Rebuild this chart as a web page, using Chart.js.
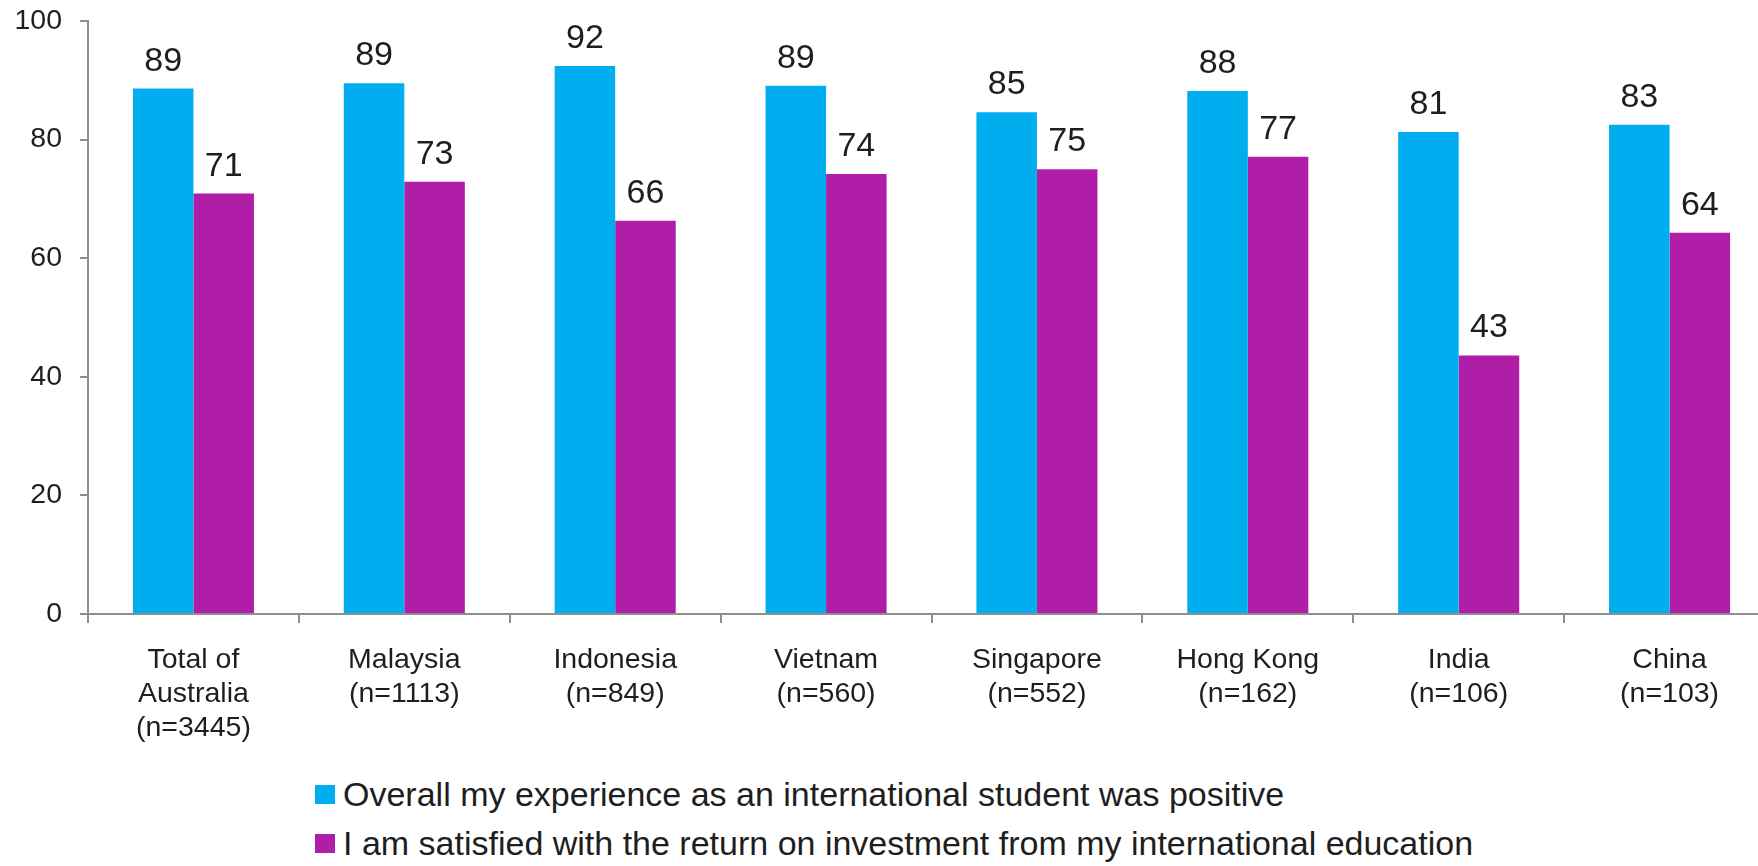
<!DOCTYPE html>
<html>
<head>
<meta charset="utf-8">
<script src="https://cdn.jsdelivr.net/npm/chart.js@4/dist/chart.umd.min.js"></script>
<style>
  html, body { margin: 0; padding: 0; background: #fff; overflow: hidden; }
  #wrap { position: absolute; left: 0; top: 0; width: 1790px; height: 745px; }
  #legend { position: absolute; left: 315px; top: 770px; font-family: "Liberation Sans", Arial, sans-serif; font-size: 34px; color: #1e1e1e; }
  #legend .item { display: flex; align-items: center; height: 49px; }
  #legend .box { width: 20px; height: 19px; margin-right: 8px; }
</style>
</head>
<body>
<div id="wrap"><canvas id="chart"></canvas></div>
<div id="legend"></div>
<script>
// Datos
const categories = [
    ['Total of', 'Australia', '(n=3445)'],
    ['Malaysia', '(n=1113)'],
    ['Indonesia', '(n=849)'],
    ['Vietnam', '(n=560)'],
    ['Singapore', '(n=552)'],
    ['Hong Kong', '(n=162)'],
    ['India', '(n=106)'],
    ['China', '(n=103)']
];
const seriesNames = [
    'Overall my experience as an international student was positive',
    'I am satisfied with the return on investment from my international education'
];
// alturas de barra (medidas) y etiquetas impresas
const positiveVals = [88.6, 89.5, 92.4, 89.1, 84.6, 88.2, 81.3, 82.5];
const positiveLabels = [89, 89, 92, 89, 85, 88, 81, 83];
const returnVals = [70.9, 72.9, 66.3, 74.2, 75.0, 77.1, 43.6, 64.3];
const returnLabels = [71, 73, 66, 74, 75, 77, 43, 64];
const yTicks = [0, 20, 40, 60, 80, 100];

const FONT = '"Liberation Sans", Arial, sans-serif';
const AXIS = '#8f8f8f';
const TEXT = '#1e1e1e';

// Plugin para las etiquetas de valor encima de las barras
const valueLabels = {
    id: 'valueLabels',
    afterDatasetsDraw(chart) {
        const ctx = chart.ctx;
        const printed = [positiveLabels, returnLabels];
        ctx.save();
        ctx.font = '34px ' + FONT;
        ctx.fillStyle = TEXT;
        ctx.textAlign = 'center';
        ctx.textBaseline = 'alphabetic';
        chart.data.datasets.forEach((ds, di) => {
            chart.getDatasetMeta(di).data.forEach((bar, i) => {
                ctx.fillText(printed[di][i], bar.x, bar.y - 18);
            });
        });
        ctx.restore();
    }
};

const chart = new Chart(document.getElementById('chart'), {
    type: 'bar',
    data: {
        labels: categories,
        datasets: [
            { label: seriesNames[0], data: positiveVals, backgroundColor: '#00aeef' },
            { label: seriesNames[1], data: returnVals, backgroundColor: '#b01ea8' }
        ]
    },
    options: {
        responsive: true,
        maintainAspectRatio: false,
        animation: false,
        categoryPercentage: 0.574,
        barPercentage: 1,
        borderWidth: 0,
        layout: { padding: { top: 21, right: 15, left: 0, bottom: 0 } },
        plugins: {
            legend: { display: false },
            tooltip: { enabled: false }
        },
        scales: {
            x: {
                offset: true,
                grid: { display: true, drawOnChartArea: false, offset: true, tickLength: 9, color: AXIS, lineWidth: 2 },
                border: { display: true, color: AXIS, width: 2 },
                ticks: { color: TEXT, padding: 20, font: { family: FONT, size: 28.5, lineHeight: 1.19 }, maxRotation: 0, autoSkip: false },
                afterFit: s => { s.height = 131; }
            },
            y: {
                min: 0,
                max: 100,
                afterBuildTicks: s => { s.ticks = yTicks.map(v => ({ value: v })); },
                grid: { display: true, drawOnChartArea: false, tickLength: 8, color: AXIS, lineWidth: 2 },
                border: { display: true, color: AXIS, width: 2 },
                ticks: { color: TEXT, padding: 18, font: { family: FONT, size: 28.5 } },
                afterFit: s => { s.width = 88; s.paddingTop = 0; s.paddingBottom = 0; }
            }
        }
    },
    plugins: [valueLabels]
});

// Leyenda HTML construida a partir de los datasets
const legendEl = document.getElementById('legend');
chart.data.datasets.forEach(ds => {
    const row = document.createElement('div');
    row.className = 'item';
    row.innerHTML = `<span class="box" style="background:${ds.backgroundColor}"></span><span>${ds.label}</span>`;
    legendEl.appendChild(row);
});
</script>
</body>
</html>
